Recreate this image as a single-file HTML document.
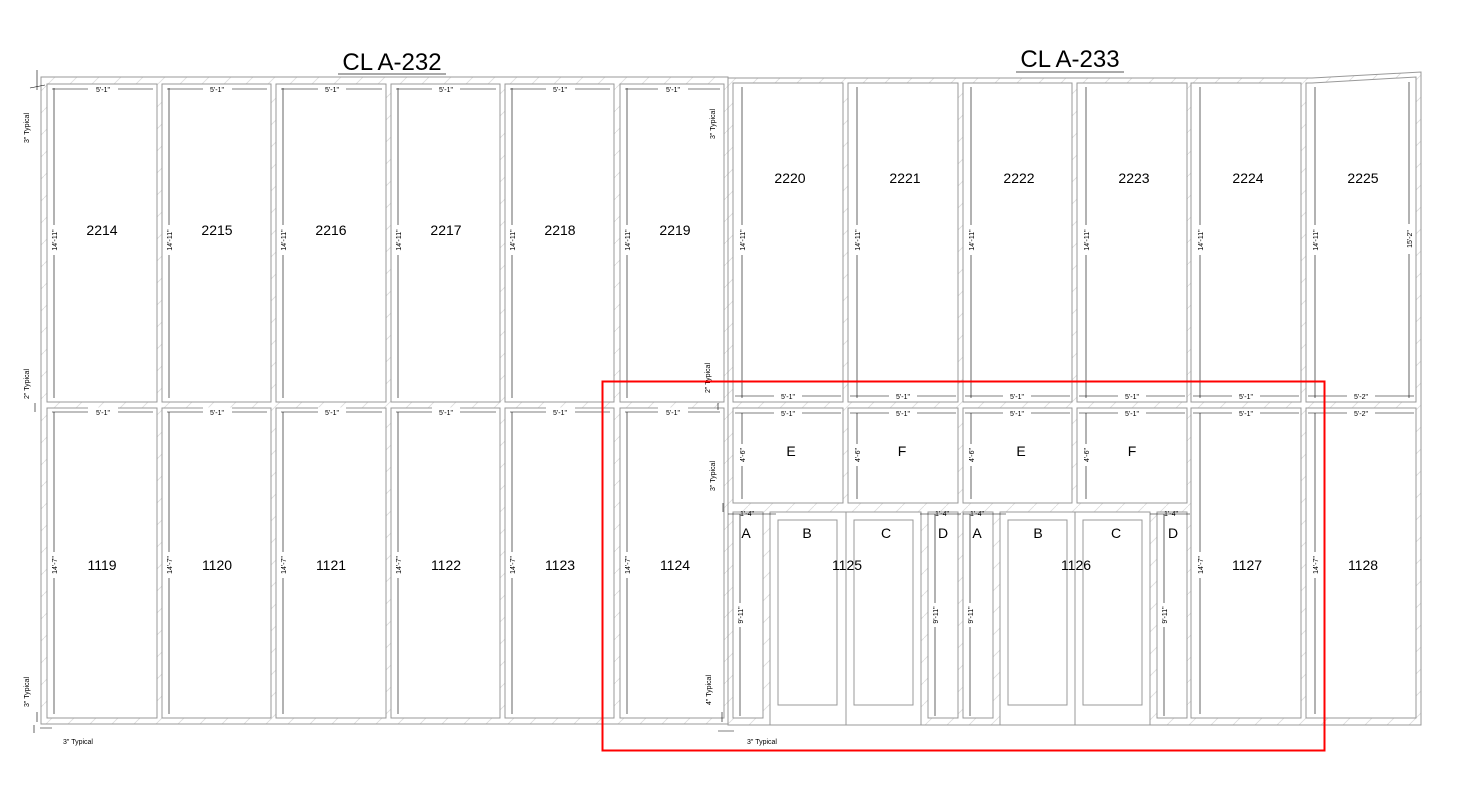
<!DOCTYPE html>
<html><head><meta charset="utf-8"><style>
html,body{margin:0;padding:0;background:#fff;width:1467px;height:792px;overflow:hidden}
svg{display:block}
text{font-family:"Liberation Sans",sans-serif;fill:#000}
.p{fill:#fff;stroke:#999;stroke-width:1}
.d{stroke:#000;stroke-width:0.6;fill:none}
.s{font-size:7px}
.n{font-size:14px}
.t{font-size:24px}
.w{stroke:#fff;stroke-width:9}
</style></head><body>
<svg width="1467" height="792" viewBox="0 0 1467 792" xmlns="http://www.w3.org/2000/svg">
<defs><pattern id="h" width="22" height="22" patternUnits="userSpaceOnUse"><path d="M0 22L22 0" stroke="#ddd" stroke-width="0.8"/></pattern></defs>
<text class="t" x="392" y="70" text-anchor="middle">CL A-232</text>
<line x1="338" y1="74" x2="446" y2="74" stroke="#555"/>
<text class="t" x="1070" y="67" text-anchor="middle">CL A-233</text>
<line x1="1016" y1="72" x2="1124" y2="72" stroke="#555"/>
<rect x="41" y="77" width="687" height="647" fill="url(#h)" stroke="#999"/>
<polygon points="728,78 1312,78 1421,72 1421,725 728,725" fill="url(#h)" stroke="#999"/>
<g class="p">
<rect x="47" y="84" width="110" height="318"/><rect x="162" y="84" width="109" height="318"/><rect x="276" y="84" width="110" height="318"/><rect x="391" y="84" width="109" height="318"/><rect x="505" y="84" width="109" height="318"/><rect x="620" y="84" width="104" height="318"/>
<rect x="47" y="408" width="110" height="310"/><rect x="162" y="408" width="109" height="310"/><rect x="276" y="408" width="110" height="310"/><rect x="391" y="408" width="109" height="310"/><rect x="505" y="408" width="109" height="310"/><rect x="620" y="408" width="104" height="310"/>
<rect x="733" y="83" width="110" height="319"/><rect x="848" y="83" width="110" height="319"/><rect x="963" y="83" width="109" height="319"/><rect x="1077" y="83" width="110" height="319"/><rect x="1191" y="83" width="110" height="319"/>
<polygon points="1306,83 1312,83 1416,77 1416,402 1306,402"/>
<rect x="733" y="408" width="110" height="95"/><rect x="848" y="408" width="110" height="95"/><rect x="963" y="408" width="109" height="95"/><rect x="1077" y="408" width="110" height="95"/>
<rect x="1191" y="408" width="110" height="310"/><rect x="1306" y="408" width="110" height="310"/>
<rect x="733" y="512" width="30" height="206"/><rect x="770" y="512" width="76" height="213"/><rect x="846" y="512" width="75" height="213"/><rect x="928" y="512" width="30" height="206"/>
<rect x="963" y="512" width="30" height="206"/><rect x="1000" y="512" width="75" height="213"/><rect x="1075" y="512" width="75" height="213"/><rect x="1157" y="512" width="30" height="206"/>
<rect x="778" y="520" width="59" height="185"/><rect x="854" y="520" width="59" height="185"/><rect x="1008" y="520" width="59" height="185"/><rect x="1083" y="520" width="59" height="185"/>
</g>
<g class="d">
<path d="M52 89H153M167 89H267M281 89H382M396 89H496M510 89H610M625 89H720"/>
<path d="M54 88V398M169 88V398M283 88V398M398 88V398M512 88V398M627 88V398"/>
<path d="M52 412H153M167 412H267M281 412H382M396 412H496M510 412H610M625 412H720"/>
<path d="M54 412V714M169 412V714M283 412V714M398 412V714M512 412V714M627 412V714"/>
<path d="M742 87V398M857 87V398M971 87V398M1086 87V398M1200 87V398M1315 87V398M1409 82V398"/>
<path d="M735 396H841M850 396H956M965 396H1070M1079 396H1185M1193 396H1299M1308 396H1414"/>
<path d="M735 413H841M850 413H956M965 413H1070M1079 413H1185M1193 413H1299M1308 413H1414"/>
<path d="M742 413V499M857 413V499M971 413V499M1086 413V499M1200 413V714M1315 413V714"/>
<path d="M728 514H776M920 514H961M963 514H1006M1150 514H1190"/>
<path d="M740 514V716M935 514V716M970 514V716M1164 514V716"/>
<path d="M37 70V90M30 88L45 85M35 403V412M37 712V722M34 725V733M40 728H52M718 403V410M723 503V512M722 712V722M718 731H734"/>
</g>
<g class="w">
<path d="M88 89H118M203 89H232M318 89H346M432 89H460M546 89H575M658 89H688"/>
<path d="M88 412H118M203 412H232M318 412H346M432 412H460M546 412H575M658 412H688"/>
<path d="M54 225V255M169 225V255M283 225V255M398 225V255M512 225V255M627 225V255"/>
<path d="M54 552V578M169 552V578M283 552V578M398 552V578M512 552V578M627 552V578"/>
<path d="M742 225V255M857 225V255M971 225V255M1086 225V255M1200 225V255M1315 225V255M1409 224V254"/>
<path d="M774 396H802M889 396H917M1003 396H1031M1118 396H1146M1232 396H1260M1347 396H1375"/>
<path d="M774 413H802M889 413H917M1003 413H1031M1118 413H1146M1232 413H1260M1347 413H1375"/>
<path d="M742 444V466M857 444V466M971 444V466M1086 444V466M1200 552V578M1315 552V578"/>
<path d="M740 603V627M935 603V627M970 603V627M1164 603V627"/>
</g>
<g class="s" text-anchor="middle">
<text x="103" y="92">5'-1"</text><text x="217" y="92">5'-1"</text><text x="332" y="92">5'-1"</text><text x="446" y="92">5'-1"</text><text x="560" y="92">5'-1"</text><text x="673" y="92">5'-1"</text>
<text x="103" y="415">5'-1"</text><text x="217" y="415">5'-1"</text><text x="332" y="415">5'-1"</text><text x="446" y="415">5'-1"</text><text x="560" y="415">5'-1"</text><text x="673" y="415">5'-1"</text>
<text x="788" y="399">5'-1"</text><text x="903" y="399">5'-1"</text><text x="1017" y="399">5'-1"</text><text x="1132" y="399">5'-1"</text><text x="1246" y="399">5'-1"</text><text x="1361" y="399">5'-2"</text>
<text x="788" y="416">5'-1"</text><text x="903" y="416">5'-1"</text><text x="1017" y="416">5'-1"</text><text x="1132" y="416">5'-1"</text><text x="1246" y="416">5'-1"</text><text x="1361" y="416">5'-2"</text>
<text x="747" y="516">1'-4"</text><text x="942" y="516">1'-4"</text><text x="977" y="516">1'-4"</text><text x="1171" y="516">1'-4"</text>
<g transform="rotate(-90)">
<text x="-240" y="57">14'-11"</text><text x="-240" y="172">14'-11"</text><text x="-240" y="286">14'-11"</text><text x="-240" y="401">14'-11"</text><text x="-240" y="515">14'-11"</text><text x="-240" y="630">14'-11"</text>
<text x="-565" y="57">14'-7"</text><text x="-565" y="172">14'-7"</text><text x="-565" y="286">14'-7"</text><text x="-565" y="401">14'-7"</text><text x="-565" y="515">14'-7"</text><text x="-565" y="630">14'-7"</text>
<text x="-240" y="745">14'-11"</text><text x="-240" y="860">14'-11"</text><text x="-240" y="974">14'-11"</text><text x="-240" y="1089">14'-11"</text><text x="-240" y="1203">14'-11"</text><text x="-240" y="1318">14'-11"</text><text x="-239" y="1412">15'-2"</text>
<text x="-455" y="745">4'-6"</text><text x="-455" y="860">4'-6"</text><text x="-455" y="974">4'-6"</text><text x="-455" y="1089">4'-6"</text>
<text x="-565" y="1203">14'-7"</text><text x="-565" y="1318">14'-7"</text>
<text x="-615" y="743">9'-11"</text><text x="-615" y="938">9'-11"</text><text x="-615" y="973">9'-11"</text><text x="-615" y="1167">9'-11"</text>
<text x="-128" y="29">3" Typical</text><text x="-384" y="29">2" Typical</text><text x="-692" y="29">3" Typical</text>
<text x="-124" y="715">3" Typical</text><text x="-378" y="710">2" Typical</text><text x="-476" y="715">3" Typical</text><text x="-690" y="711">4" Typical</text>
</g>
<text x="78" y="744">3" Typical</text><text x="762" y="744">3" Typical</text>
</g>
<g class="n" text-anchor="middle">
<text x="102" y="235">2214</text><text x="217" y="235">2215</text><text x="331" y="235">2216</text><text x="446" y="235">2217</text><text x="560" y="235">2218</text><text x="675" y="235">2219</text>
<text x="102" y="570">1119</text><text x="217" y="570">1120</text><text x="331" y="570">1121</text><text x="446" y="570">1122</text><text x="560" y="570">1123</text><text x="675" y="570">1124</text>
<text x="790" y="183">2220</text><text x="905" y="183">2221</text><text x="1019" y="183">2222</text><text x="1134" y="183">2223</text><text x="1248" y="183">2224</text><text x="1363" y="183">2225</text>
<text x="791" y="456">E</text><text x="902" y="456">F</text><text x="1021" y="456">E</text><text x="1132" y="456">F</text>
<text x="746" y="538">A</text><text x="807" y="538">B</text><text x="886" y="538">C</text><text x="943" y="538">D</text>
<text x="977" y="538">A</text><text x="1038" y="538">B</text><text x="1116" y="538">C</text><text x="1173" y="538">D</text>
<text x="847" y="570">1125</text><text x="1076" y="570">1126</text><text x="1247" y="570">1127</text><text x="1363" y="570">1128</text>
</g>
<rect x="602.5" y="381.5" width="722" height="369" fill="none" stroke="#f00" stroke-width="2"/>
</svg>
</body></html>
